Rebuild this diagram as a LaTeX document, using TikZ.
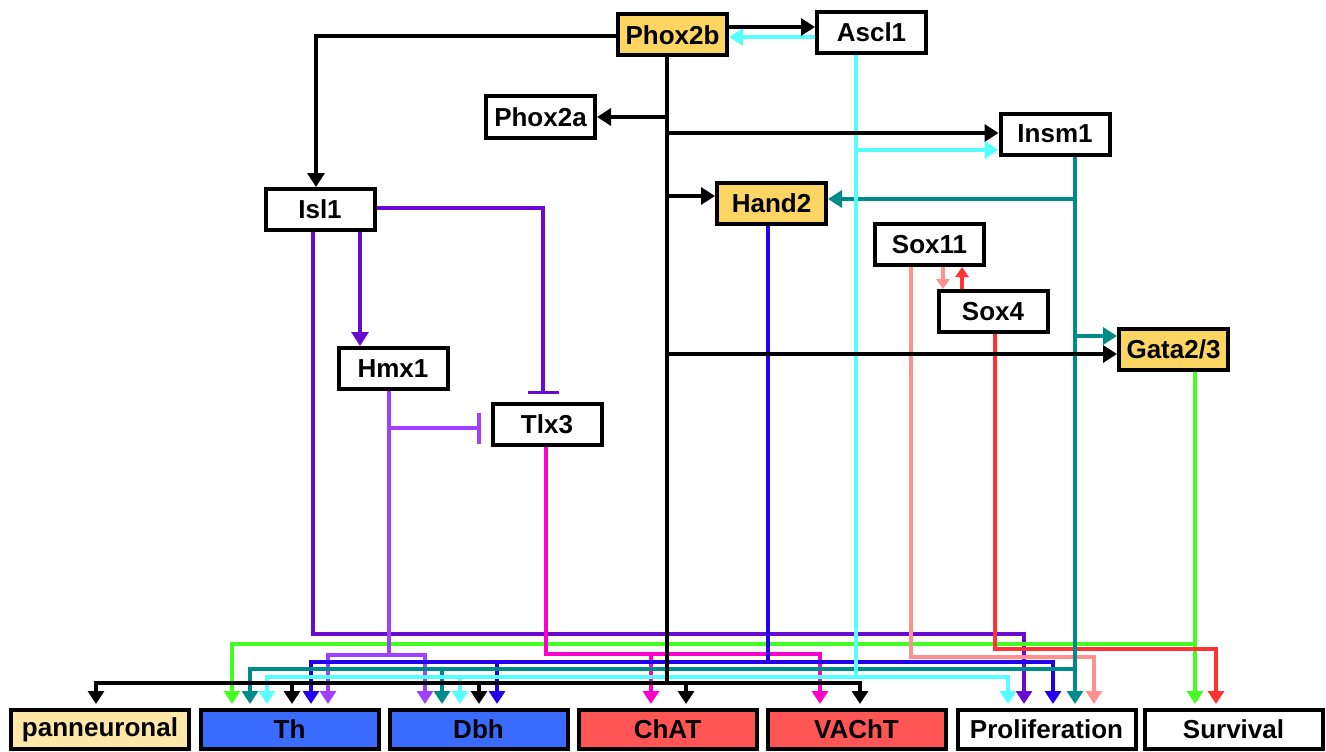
\documentclass[tikz,border=0pt]{standalone}
\usepackage{fontspec}
\setmainfont{Liberation Sans}
\usetikzlibrary{arrows.meta}
\definecolor{cP}{HTML}{6A0AD0}
\definecolor{cLP}{HTML}{A040FF}
\definecolor{cB}{HTML}{2200EE}
\definecolor{cT}{HTML}{008B8B}
\definecolor{cC}{HTML}{55FFFF}
\definecolor{cG}{HTML}{44FF22}
\definecolor{cM}{HTML}{FF00CC}
\definecolor{cS}{HTML}{FF9090}
\definecolor{cR}{HTML}{FF3333}
\definecolor{fOr}{HTML}{FDD563}
\definecolor{fPan}{HTML}{FFE7A8}
\definecolor{fBl}{HTML}{3A6BFF}
\definecolor{fRd}{HTML}{FF5555}
\begin{document}
\begin{tikzpicture}[x=1pt,y=-1pt,
  box/.style={draw=black, line width=4pt, minimum width=109pt, minimum height=41pt, inner sep=0pt,
    font=\fontsize{26}{30}\selectfont\bfseries},
  outbox/.style={box, minimum width=178pt, minimum height=39pt},
  con/.style={line width=3.3pt},
  arr/.style={-{Triangle[length=14pt,width=17pt]}},
  sarr/.style={-{Triangle[length=10pt,width=13pt]}},
  inh/.style={-{Bar[width=31pt]}},
  drop/.style={con,-{Triangle[length=13pt,width=16pt]},shorten >=4pt}]
\useasboundingbox (0,0) rectangle (1326,752);
\fill[white] (0,0) rectangle (1326,752);

% regulator nodes
\node[box, fill=fOr] (Phox2b) at (672.5,35) {Phox2b};
\node[box] (Ascl1) at (871.5,32.5) {Ascl1};
\node[box] (Phox2a) at (540.5,117) {Phox2a};
\node[box] (Insm1) at (1055,134) {Insm1};
\node[box, fill=fOr] (Hand2) at (771.5,203) {Hand2};
\node[box] (Isl1) at (320,209.5) {Isl1};
\node[box] (Sox11) at (929.5,244.5) {Sox11};
\node[box] (Sox4) at (993,311.5) {Sox4};
\node[box, fill=fOr] (Gata) at (1173.5,349.5) {Gata2/3};
\node[box] (Hmx1) at (393,368.5) {Hmx1};
\node[box] (Tlx3) at (547,424.5) {Tlx3};

% target nodes
\node[outbox, fill=fPan] (pan) at (100,729.5) {panneuronal};
\node[outbox, fill=fBl] (Th) at (289.5,729.5) {Th};
\node[outbox, fill=fBl] (Dbh) at (478.5,729.5) {Dbh};
\node[outbox, fill=fRd] (ChAT) at (667.5,729.5) {ChAT};
\node[outbox, fill=fRd] (VAChT) at (856.5,729.5) {VAChT};
\node[outbox] (Prolif) at (1046.5,729.5) {Proliferation};
\node[outbox] (Surv) at (1233.5,729.5) {Survival};

% dark purple: Isl1
\draw[drop,cP] (Isl1.south -| 313,0) -- (313,634) -| (Prolif.north -| 1024,0);
\draw[con,cP,arr] (Isl1.south -| 360,0) -- (Hmx1.north -| 360,0);
\draw[con,cP,inh,shorten >=8pt] (Isl1.east |- 0,208) -| (Tlx3.north -| 543,0);

% green: Gata2/3
\draw[drop,cG] (Gata.south -| 1195,0) -- (Surv.north -| 1195,0);
\draw[drop,cG] (1195,644) -| (Th.north -| 232,0);

% red: Sox4
\draw[drop,cR] (Sox4.south -| 995,0) |- (1216,649) -- (Surv.north -| 1216,0);
\draw[con,cR,sarr] (Sox4.north -| 962,0) -- (Sox11.south -| 962,0);

% salmon: Sox11
\draw[drop,cS] (Sox11.south -| 911,0) |- (1094,657) -- (Prolif.north -| 1094,0);
\draw[con,cS,sarr] (Sox11.south -| 943,0) -- (Sox4.north -| 943,0);

% magenta: Tlx3
\draw[drop,cM] (Tlx3.south -| 546,0) |- (820,654) -- (VAChT.north -| 820,0);
\draw[drop,cM] (651,654) -- (ChAT.north -| 651,0);

% light purple: Hmx1
\draw[con,cLP] (Hmx1.south -| 389,0) -- (389,655);
\draw[drop,cLP] (389,655) -| (Th.north -| 328,0);
\draw[drop,cLP] (389,655) -| (Dbh.north -| 425,0);
\draw[con,cLP,inh,shorten >=10pt] (389,428) -- (Tlx3.west |- 0,428);

% blue: Hand2
\draw[con,cB] (Hand2.south -| 768,0) -- (768,662);
\draw[drop,cB] (1053,662) -| (Th.north -| 311,0);
\draw[drop,cB] (497,662) -- (Dbh.north -| 497,0);
\draw[drop,cB] (1000,662) -| (Prolif.north -| 1053,0);

% teal: Insm1
\draw[drop,cT] (Insm1.south -| 1075,0) -- (Prolif.north -| 1075,0);
\draw[con,cT,arr] (1075,199) -- (Hand2.east |- 0,199);
\draw[con,cT,arr] (1075,336) -- (Gata.west |- 0,336);
\draw[drop,cT] (1075,669) -| (Th.north -| 250,0);
\draw[drop,cT] (442,669) -- (Dbh.north -| 442,0);

% cyan: Ascl1
\draw[con,cC,arr] (Ascl1.west |- 0,37) -- (Phox2b.east |- 0,37);
\draw[con,cC] (Ascl1.south -| 856,0) -- (856,677);
\draw[con,cC,arr] (856,150) -- (Insm1.west |- 0,150);
\draw[drop,cC] (856,677) -| (Th.north -| 267,0);
\draw[drop,cC] (460,677) -- (Dbh.north -| 460,0);
\draw[drop,cC] (856,677) -| (Prolif.north -| 1008,0);

% black: Phox2b
\draw[con,black,arr] (Phox2b.east |- 0,27) -- (Ascl1.west |- 0,27);
\draw[con,black,arr] (Phox2b.west |- 0,36) -| ([xshift=-4pt]Isl1.north);
\draw[con,black] (Phox2b.south -| 667,0) -- (667,683);
\draw[con,black,arr] (667,117) -- (Phox2a.east);
\draw[con,black,arr] (667,133) -- (Insm1.west |- 0,133);
\draw[con,black,arr] (667,196) -- (Hand2.west |- 0,196);
\draw[con,black,arr] (667,354) -- (Gata.west |- 0,354);
\draw[drop,black] (667,683) -| (pan.north -| 96,0);
\draw[drop,black] (292,683) -- (Th.north -| 292,0);
\draw[drop,black] (479,683) -- (Dbh.north -| 479,0);
\draw[drop,black] (686,683) -- (ChAT.north -| 686,0);
\draw[drop,black] (667,683) -| (VAChT.north -| 860,0);
\end{tikzpicture}
\end{document}
